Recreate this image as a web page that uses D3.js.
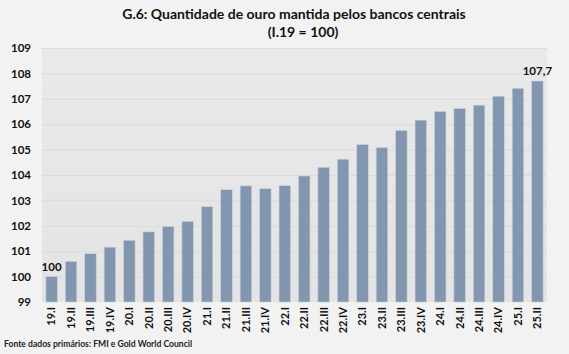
<!DOCTYPE html>
<html><head><meta charset="utf-8">
<script src="https://cdn.jsdelivr.net/npm/d3@7"></script>
<style>
html,body{margin:0;padding:0;background:#f2f2f2;}
text{font-family:Lato,"Open Sans",sans-serif;}
</style></head><body>
<svg id="c" width="569" height="354"></svg>
<script>
const categories = ["19.I","19.II","19.III","19.IV","20.I","20.II","20.III","20.IV","21.I","21.II","21.III","21.IV","22.I","22.II","22.III","22.IV","23.I","23.II","23.III","23.IV","24.I","24.II","24.III","24.IV","25.I","25.II"];
const values = [100.0,100.6,100.9,101.16,101.43,101.76,101.97,102.17,102.75,103.42,103.57,103.46,103.58,103.96,104.30,104.62,105.20,105.08,105.75,106.16,106.50,106.62,106.75,107.10,107.41,107.7];
const yTicks = [99,100,101,102,103,104,105,106,107,108,109];
const titleLines = ["G.6: Quantidade de ouro mantida pelos bancos centrais","(I.19 = 100)"];
const sourceText = "Fonte dados primários: FMI e Gold World Council";
const labelled = {0:"100",25:"107,7"};

const svg = d3.select("#c");
svg.append("rect").attr("width",569).attr("height",354).attr("fill","#f2f2f2");
const pL=42,pR=547,pT=48,pB=302;
const x = d3.scaleBand().domain(categories).range([pL,pR]).paddingInner(0.41).paddingOuter(0.2);
const y = d3.scaleLinear().domain([99,109]).range([pB,pT]);

const defs = svg.append("defs");
const g = defs.append("linearGradient").attr("id","bg").attr("x1",0).attr("x2",0).attr("y1",0).attr("y2",1);
g.append("stop").attr("offset","0").attr("stop-color","#e9e9e9");
g.append("stop").attr("offset","1").attr("stop-color","#e4e4e4");
svg.append("rect").attr("x",pL).attr("y",pT).attr("width",pR-pL).attr("height",pB-pT).attr("fill","url(#bg)");

svg.append("g").selectAll("line").data(yTicks.slice(1)).join("line")
  .attr("x1",pL).attr("x2",pR).attr("y1",d=>y(d)+0.5).attr("y2",d=>y(d)+0.5)
  .attr("stroke","#dadada").attr("stroke-width",1);

svg.append("g").selectAll("rect").data(values).join("rect")
  .attr("x",(d,i)=>x(categories[i])).attr("width",x.bandwidth())
  .attr("y",d=>y(d)).attr("height",d=>y(99)-y(d))
  .attr("fill","#8296b0").attr("stroke","#c7cfdb").attr("stroke-width",0.6);

const ya = svg.append("g").attr("transform",`translate(${pL},0)`)
  .call(d3.axisLeft(y).tickValues(yTicks).tickSize(0).tickPadding(11).tickFormat(d3.format("d")));
ya.select(".domain").remove();
ya.selectAll("text").attr("font-size",11.5).attr("font-weight","bold").attr("fill","#111").style("font-family","Lato,sans-serif");

const xa = svg.append("g").attr("transform",`translate(0,${pB})`)
  .call(d3.axisBottom(x).tickSize(0).tickPadding(0));
xa.select(".domain").remove();
xa.selectAll("text").attr("font-size",11).attr("font-weight","bold").attr("fill","#111")
  .style("font-family","Lato,sans-serif")
  .attr("transform","rotate(-90)").attr("text-anchor","end").attr("x",-5).attr("y",0).attr("dy","0.35em");

svg.append("g").selectAll("text").data(Object.keys(labelled)).join("text")
  .attr("x",i=>x(categories[+i])+x.bandwidth()/2).attr("y",i=>y(values[+i])-6)
  .attr("text-anchor","middle").attr("font-size",11.5).attr("font-weight","bold").attr("fill","#111")
  .text(i=>labelled[i]);

svg.append("g").selectAll("text").data(titleLines).join("text")
  .attr("x",(d,i)=>i?303:294).attr("y",(d,i)=>19+i*18).attr("text-anchor","middle")
  .attr("font-size",14).attr("font-weight","bold").attr("fill","#111").text(d=>d);

svg.append("text").attr("x",4).attr("y",347).attr("font-size",8.6).attr("font-weight","bold").attr("fill","#222").text(sourceText);
</script></body></html>
